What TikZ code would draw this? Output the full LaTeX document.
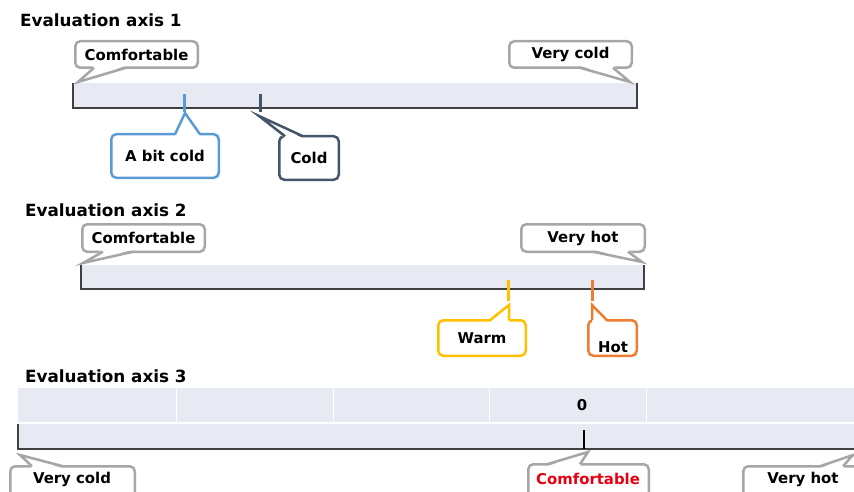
\documentclass[tikz,border=0pt]{standalone}
\usepackage{fontspec}
\setmainfont{DejaVu Sans}
\usetikzlibrary{calc}
\definecolor{barfill}{HTML}{E8EAF3}
\definecolor{calgray}{HTML}{A6A6A6}
\definecolor{cblue}{HTML}{5B9BD5}
\definecolor{cslate}{HTML}{44546A}
\definecolor{cyellow}{HTML}{FFC000}
\definecolor{corange}{HTML}{ED7D31}
\definecolor{edgegray}{HTML}{404040}
\definecolor{cred}{HTML}{E60012}
% #1 colour, #2 tip, #3 base left, #4 base right, #5 inward shift
\newcommand\calltail[5]{%
  \fill[white] ($(#3)+(0,#5)$) -- (#2) -- ($(#4)+(0,#5)$) -- cycle;
  \draw[#1, line width=2.5pt, line join=miter] (#3) -- (#2) -- (#4);
}
\begin{document}
\begin{tikzpicture}[x=1pt,y=-1pt,
  title/.style={anchor=base west, inner sep=0, font=\fontsize{16.8}{19}\selectfont\bfseries},
  callbox/.style={draw=#1, line width=2.5pt, rounded corners=5pt, fill=white, inner sep=0,
    font=\fontsize{14.9}{17}\selectfont\bfseries},
  lbl/.style={inner sep=0, font=\fontsize{14.9}{17}\selectfont\bfseries},
  baredge/.style={draw=edgegray, line width=1.3pt},
  tickmark/.style={line width=3pt}]
\useasboundingbox (0,0) rectangle (854,492);
\clip (0,0) rectangle (854,492);

% ---------- Axis 1 ----------
\node[title] (t1) at (20,27) {Evaluation axis 1};
\fill[barfill] (73,83) rectangle (637,108);
\draw[baredge] (73,83) -- (73,108) -- (637,108) -- (637,83);
\draw[tickmark, cblue] (184,94) -- (184,112);
\draw[tickmark, cslate] (260,94) -- (260,112);

\node[callbox=calgray, minimum width=122.5pt, minimum height=26.5pt] (a1c) at (136.5,54.5) {Comfortable};
\calltail{calgray}{78,82}{94,67.75}{126,67.75}{-2}
\node[callbox=calgray, minimum width=122.5pt, minimum height=26.5pt] (a1v) at (570.5,54.5) {Very cold};
\calltail{calgray}{630,82}{580,67.75}{613,67.75}{-2}
\node[callbox=cblue, minimum width=107.5pt, minimum height=43.5pt] (a1b) at (165,156) {A bit cold};
\calltail{cblue}{185,113}{175,134.25}{200,134.25}{2}
\node[callbox=cslate, minimum width=59.5pt, minimum height=43.5pt] (a1k) at (309,158) {Cold};
\calltail{cslate}{259,116}{285,136.25}{303,136.25}{2}

% ---------- Axis 2 ----------
\node[title] (t2) at (25,216) {Evaluation axis 2};
\fill[barfill] (81,265) rectangle (644,289);
\draw[baredge] (81,265) -- (81,289) -- (644,289) -- (644,265);
\draw[tickmark, cyellow] (508,280) -- (508,301);
\draw[tickmark, corange] (592,280) -- (592,301);

\node[callbox=calgray, minimum width=122.5pt, minimum height=27.5pt] (a2c) at (143.5,238) {Comfortable};
\calltail{calgray}{83,263}{103,251.75}{133,251.75}{-2}
\node[callbox=calgray, minimum width=123.5pt, minimum height=27.5pt] (a2v) at (583,238) {Very hot};
\calltail{calgray}{642,262}{593,251.75}{628,251.75}{-2}
\node[callbox=cyellow, minimum width=87.5pt, minimum height=35.5pt] (a2w) at (482,338) {Warm};
\calltail{cyellow}{509,305}{490,320.25}{509,320.25}{2}
\node[callbox=corange, minimum width=48.5pt, minimum height=35.5pt] (a2h) at (612.5,338) {};
\calltail{corange}{592,305}{592,320.25}{607,320.25}{2}
\node[lbl] (a2ht) at (613,347) {Hot};

% ---------- Axis 3 ----------
\node[title] (t3) at (25,382) {Evaluation axis 3};
\fill[barfill] (18,388) rectangle (854,422);
\foreach \xx in {176,333,489,646}{\draw[white, line width=1pt] (\xx,388) -- (\xx,422);}
\node[lbl] (zero) at (582,405) {0};
\fill[barfill] (18,423.5) rectangle (854,449);
\draw[baredge] (18,423.5) -- (18,449) -- (854,449);
\draw[line width=1.5pt, black] (584,430) -- (584,449);

\node[callbox=calgray, minimum width=124.5pt, minimum height=40pt] (a3v) at (72.5,486.25) {};
\calltail{calgray}{20,455}{32,466.25}{63,466.25}{2}
\node[lbl] (a3vt) at (72,479) {Very cold};
\node[callbox=calgray, minimum width=120.5pt, minimum height=40pt] (a3c) at (588.5,484.25) {};
\calltail{calgray}{588,452}{547,464.25}{580,464.25}{2}
\node[lbl, text=cred] (a3ct) at (588,479) {Comfortable};
\node[callbox=calgray, minimum width=133.5pt, minimum height=40pt] (a3h) at (810,486.25) {};
\calltail{calgray}{853,455}{820,466.25}{843,466.25}{2}
\node[lbl] (a3ht) at (803,479) {Very hot};
\end{tikzpicture}
\end{document}
